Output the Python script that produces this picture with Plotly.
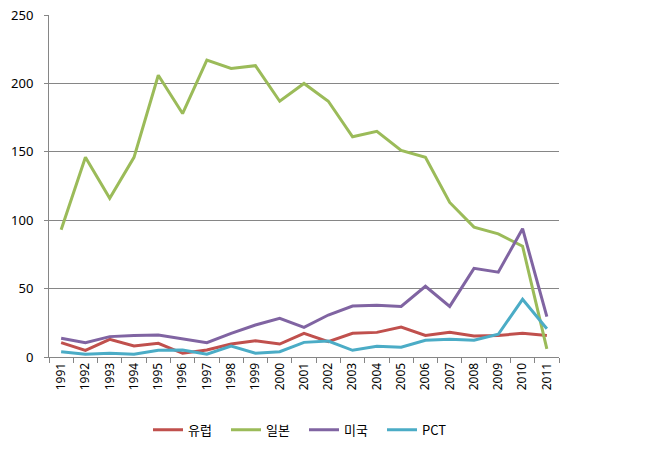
import plotly.graph_objects as go

# 연도
years = [str(y) for y in range(1991, 2012)]

# 출원 건수
europe = [10.5, 4.8, 12.9, 8, 10, 2.7, 5.1, 9.5, 11.9, 9.5, 17.3, 11.2, 17.3, 18, 21.9, 15.8, 18, 15.4, 15.8, 17.3, 15.8]
japan = [93, 146, 116, 146, 206, 178, 217, 211, 213, 187, 200, 187, 161, 165, 151, 146, 113, 95, 90, 81, 6]
usa = [13.7, 10.5, 14.9, 15.8, 16, 13.2, 10.5, 17.3, 23.4, 28.3, 21.7, 30.7, 37.3, 37.8, 37, 51.7, 37, 64.8, 62, 93.8, 29.5]
pct = [3.9, 2, 2.7, 2, 4.9, 5.1, 2, 8, 2.7, 3.9, 10.7, 11.7, 4.9, 7.8, 7.1, 12.2, 12.9, 12.2, 16.6, 42.2, 20.7]

series_names = ['유럽', '일본', '미국', 'PCT']
series_data = [europe, japan, usa, pct]
colors = ['#C0504D', '#9BBB59', '#8064A2', '#4BACC6']

fig = go.Figure()
for name, vals, c in zip(series_names, series_data, colors):
    fig.add_trace(go.Scatter(x=years, y=vals, name=name, mode='lines',
                             line=dict(color=c, width=3)))

fig.update_layout(
    width=658, height=458,
    margin=dict(l=49, r=99, t=15, b=101, autoexpand=False),
    plot_bgcolor='white', paper_bgcolor='white',
    font=dict(family='Noto Sans CJK KR, Noto Sans, sans-serif', size=12, color='#000000'),
    showlegend=True,
    legend=dict(orientation='h', x=0.5, xanchor='center', y=-0.213, yanchor='middle',
                font=dict(size=13), itemwidth=30, tracegroupgap=0,
                entrywidth=33, entrywidthmode='pixels'),
)
fig.update_xaxes(
    type='category', range=[-0.5, 20.5], automargin=False,
    showline=True, linecolor='#868686', linewidth=1,
    ticks='outside', tickson='boundaries', ticklen=5, tickcolor='#868686',
    tickangle=-90, tickfont=dict(size=12, family='Noto Sans, sans-serif'),
    showgrid=False,
)
fig.update_yaxes(
    range=[0, 250.05], dtick=50, automargin=False,
    showline=True, linecolor='#868686', linewidth=1,
    ticks='outside', ticklen=4, tickcolor='#868686',
    showgrid=True, gridcolor='#868686', gridwidth=1,
    zeroline=False,
    tickfont=dict(size=13, family='Noto Sans, sans-serif'),
    ticklabelstandoff=8, ticklabeloverflow='allow',
)

# 페이지 기본 body 여백 제거, 모드바 숨김
fig.write_html("out.html", config={'displayModeBar': False},
               post_script="document.body.style.margin='0';")
